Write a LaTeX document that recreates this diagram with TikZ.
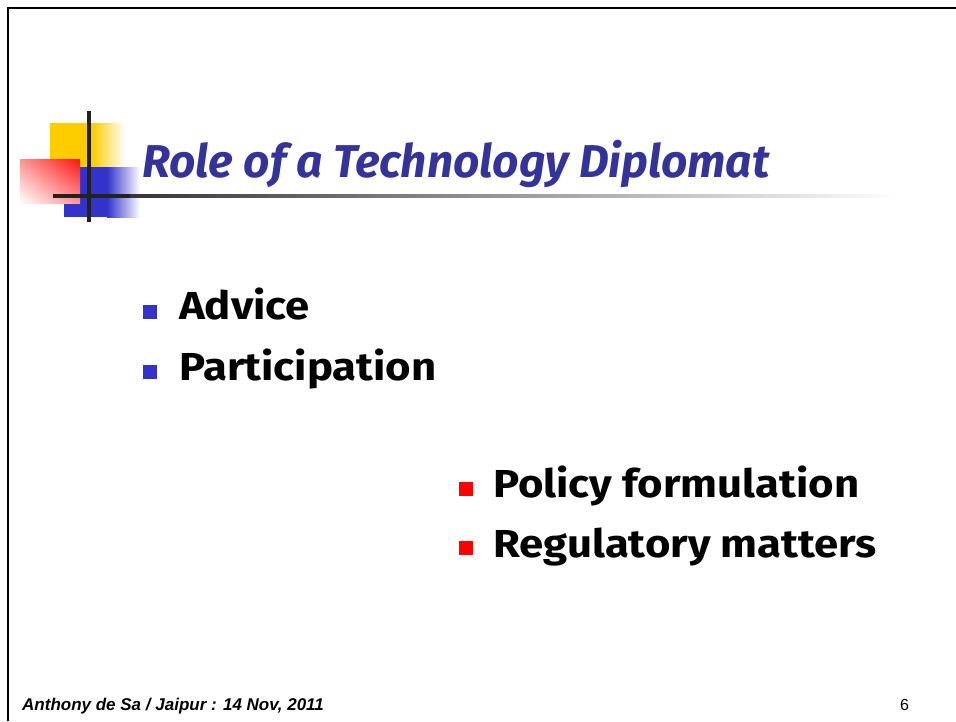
\documentclass[tikz,border=0pt]{standalone}
\usepackage{fontspec}
\usetikzlibrary{shadings}
\setmainfont{Fira Sans}
\newfontfamily\itemfont[FakeStretch=1.12]{Fira Sans}
\newfontfamily\footfont{Liberation Sans}
\definecolor{titleblue}{HTML}{333399}
\definecolor{bulblue}{HTML}{3333CC}
\definecolor{logoyellow}{HTML}{FFCC00}
\definecolor{logoblue}{HTML}{3333CC}
\definecolor{logored}{HTML}{FF1111}
\definecolor{barblack}{HTML}{222222}
\tikzset{
  item/.style={anchor=base west, inner sep=0pt, font=\itemfont\fontsize{39}{44}\selectfont\bfseries},
  bulletsq/.style={inner sep=0pt, minimum size=14pt, draw=none},
}
\begin{document}
\begin{tikzpicture}[x=1pt,y=-1pt]
\useasboundingbox (0,0) rectangle (956,721);
\fill[white] (0,0) rectangle (956,721);
% border
\draw[line width=2.5pt, black] (8,721) -- (8,8) -- (956,8);
% logo
\fill[logoyellow] (50,123) rectangle (92,167);
\shade[left color=logoyellow, right color=white] (92,123) rectangle (125,167);
\fill[logoblue] (64,167) rectangle (107,217);
\shade[left color=logoblue, right color=white] (107,167) rectangle (140,217);
\shade[upper right=logored, upper left=logored!45, lower left=white, lower right=logored!45] (20,159) rectangle (80,203);
\shade[left color=barblack, right color=white] (53,194) rectangle (900,197.5);
\fill[barblack] (53,194) rectangle (130,197.5);
\fill[barblack] (87,111) rectangle (91,222);
% title
\node[anchor=base west, inner sep=0pt, text=titleblue, font=\fontsize{46}{52}\selectfont\bfseries\itshape] (title) at (142,177) {Role of a Technology Diplomat};
% bullets
\node[bulletsq, fill=bulblue] (b1) at (150,312) {};
\node[item] (t1) at (179,319) {Advice};
\node[bulletsq, fill=bulblue] (b2) at (150,372) {};
\node[item] (t2) at (179,380) {Participation};
\node[bulletsq, fill=red] (b3) at (465.5,488.5) {};
\node[item] (t3) at (493,497) {Policy formulation};
\node[bulletsq, fill=red] (b4) at (465.5,548) {};
\node[item] (t4) at (493,557) {Regulatory matters};
% footer
\node[anchor=base west, inner sep=0pt, font=\footfont\fontsize{17}{19}\selectfont\bfseries\itshape] (foot) at (22,710) {Anthony de Sa / Jaipur : 14 Nov, 2011};
\node[anchor=base west, inner sep=0pt, font=\footfont\fontsize{16}{18}\selectfont] (page) at (900,710) {6};
\end{tikzpicture}
\end{document}
